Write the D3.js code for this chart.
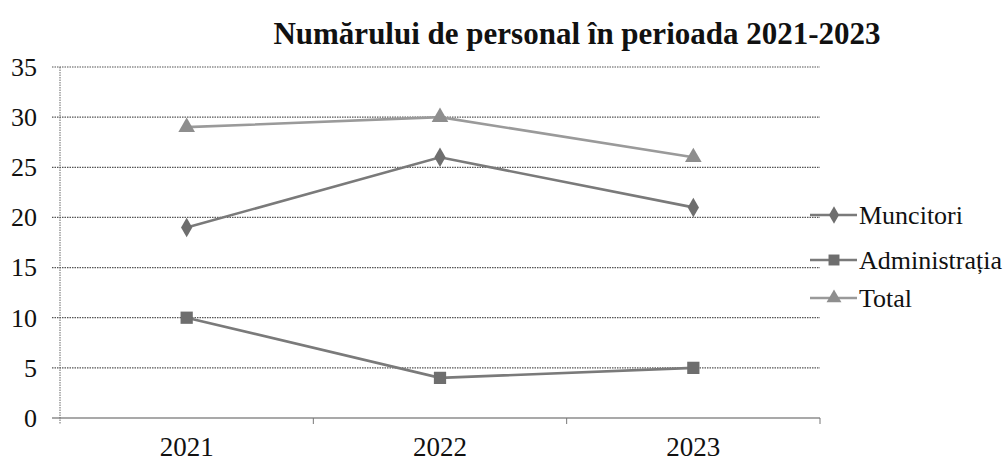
<!DOCTYPE html>
<html><head><meta charset="utf-8">
<script src="https://cdn.jsdelivr.net/npm/d3@7"></script>
<style>body{margin:0;background:#fff}svg{display:block}
text{font-family:"Liberation Serif","DejaVu Serif",serif}</style>
</head><body>
<svg id="c" width="1008" height="464"></svg>
<script>
const categories = ["2021", "2022", "2023"];
const muncitori = [19, 26, 21];
const administratia = [10, 4, 5];
const total = [29, 30, 26];
const seriesNames = ["Muncitori", "Administrația", "Total"];
const yTicks = [0, 5, 10, 15, 20, 25, 30, 35];
const title = "Numărului de personal în perioada 2021-2023";

const svg = d3.select("#c");
const font = "'Liberation Serif','DejaVu Serif',serif";
const m = {left: 60, right: 820, top: 67, bottom: 418};
const x = d3.scaleBand().domain(categories).range([m.left, m.right]);
const y = d3.scaleLinear().domain([0, 35]).range([m.bottom, m.top]);

svg.append("text").attr("x", 577).attr("y", 44).attr("text-anchor", "middle")
  .style("font-family", font).style("font-weight", "bold").style("font-size", "31px")
  .attr("fill", "#111").text(title);

// gridlines
svg.append("g").selectAll("line").data(yTicks).join("line")
  .attr("x1", m.left - 8).attr("x2", m.right)
  .attr("y1", d => y(d)).attr("y2", d => y(d))
  .attr("stroke", "#555").attr("stroke-width", 1.2)
  .attr("stroke-dasharray", d => d === 0 ? null : "1.5,1");

// y axis
const ya = svg.append("g").attr("transform", `translate(${m.left},0)`)
  .call(d3.axisLeft(y).tickValues(yTicks).tickSize(0).tickPadding(23));
ya.select(".domain").remove();
ya.selectAll("text").style("font-family", font).style("font-size", "26px").attr("fill", "#111");
svg.append("line").attr("x1", m.left).attr("x2", m.left)
  .attr("y1", m.top).attr("y2", m.bottom + 6)
  .attr("stroke", "#666").attr("stroke-width", 1).attr("stroke-dasharray", "1.5,1");

// x axis
const xa = svg.append("g").attr("transform", `translate(0,${m.bottom})`)
  .call(d3.axisBottom(x).tickSize(0).tickPadding(19));
xa.select(".domain").remove();
xa.selectAll("text").style("font-family", font).style("font-size", "27px").attr("fill", "#111");
svg.append("g").selectAll("line").data(categories).join("line")
  .attr("x1", d => x(d) + x.bandwidth()).attr("x2", d => x(d) + x.bandwidth())
  .attr("y1", m.bottom).attr("y2", m.bottom + 6)
  .attr("stroke", "#777").attr("stroke-width", 1);

const cx = d => x(d) + x.bandwidth() / 2;
const series = [
  {name: seriesNames[0], values: muncitori, line: "#7a7a7a", mark: "#6e6e6e", sym: d3.symbolDiamond, size: 110},
  {name: seriesNames[1], values: administratia, line: "#7a7a7a", mark: "#6e6e6e", sym: d3.symbolSquare, size: 150},
  {name: seriesNames[2], values: total, line: "#9a9a9a", mark: "#8e8e8e", sym: d3.symbolTriangle, size: 120}
];
const line = d3.line().x((d, i) => cx(categories[i])).y(d => y(d));
series.forEach(s => {
  svg.append("path").datum(s.values).attr("d", line)
    .attr("fill", "none").attr("stroke", s.line).attr("stroke-width", 2.6);
  svg.append("g").selectAll("path").data(s.values).join("path")
    .attr("transform", (d, i) => `translate(${cx(categories[i])},${y(d)})`)
    .attr("d", d3.symbol().type(s.sym).size(s.size)).attr("fill", s.mark);
});

// legend
const lg = svg.append("g");
series.forEach((s, i) => {
  const ly = [215, 260, 298][i];
  lg.append("line").attr("x1", 810).attr("x2", 857).attr("y1", ly).attr("y2", ly)
    .attr("stroke", s.line).attr("stroke-width", 2.6);
  lg.append("path").attr("transform", `translate(834,${ly})`)
    .attr("d", d3.symbol().type(s.sym).size(s.size * 0.8)).attr("fill", s.mark);
  lg.append("text").attr("x", 859).attr("y", ly + 9)
    .style("font-family", font).style("font-size", "26px").attr("fill", "#111").text(s.name);
});
</script>
</body></html>
